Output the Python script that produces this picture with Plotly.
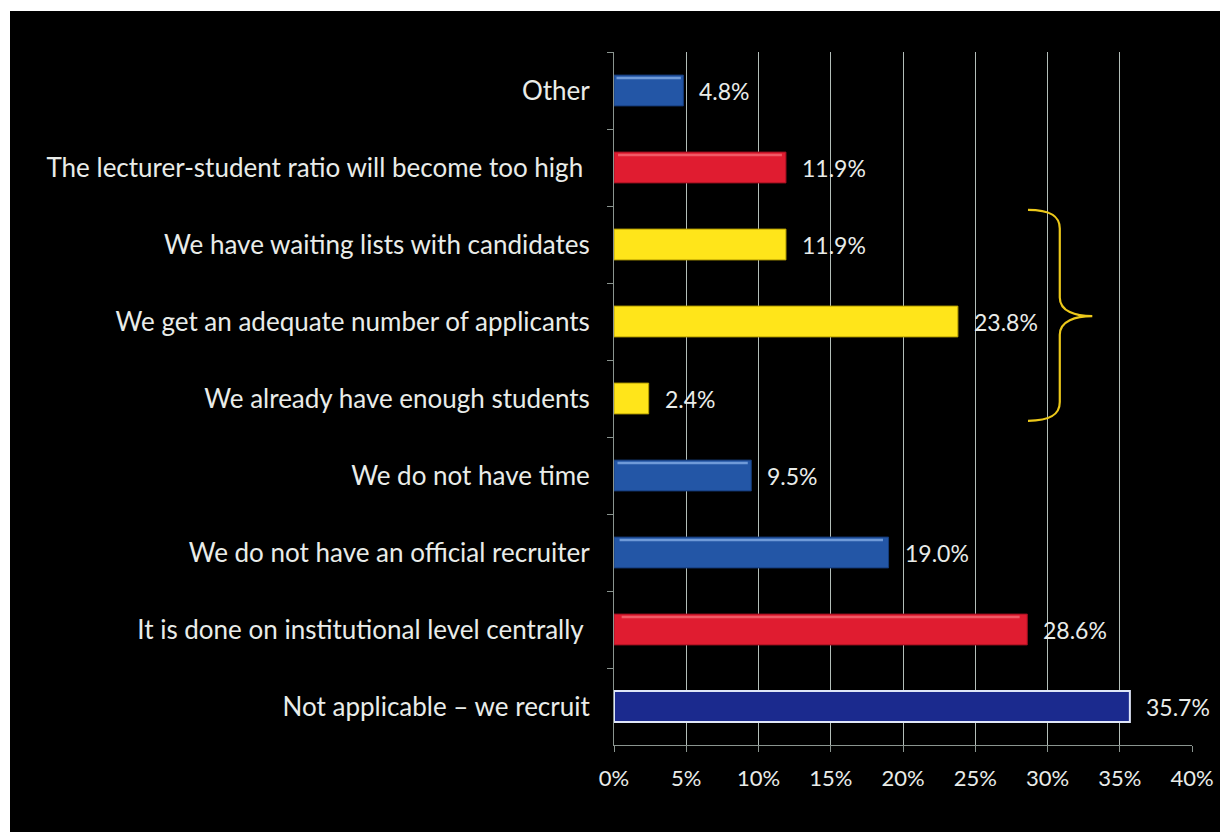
import plotly.graph_objects as go

# Reasons for not recruiting, listed top to bottom
categories = [
    "Other",
    "The lecturer-student ratio will become too high\u00a0",
    "We have waiting lists with candidates",
    "We get an adequate number of applicants",
    "We already have enough students",
    "We do not have time",
    "We do not have an official recruiter",
    "It is done on institutional level centrally\u00a0",
    "Not applicable \u2013 we recruit",
]
shares = [4.8, 11.9, 11.9, 23.8, 2.4, 9.5, 19.0, 28.6, 35.7]
groups = ["other", "capacity", "demand", "demand", "demand", "other", "other", "capacity", "recruit"]

tick_values = [0, 5, 10, 15, 20, 25, 30, 35, 40]
tick_labels = [f"{v}%" for v in tick_values]

fill = {"other": "#2356a6", "capacity": "#e01c30", "demand": "#ffe51a", "recruit": "#1b2a8e"}
edge = {"other": "#163c7a", "capacity": "#a01020", "demand": "#b8a000", "recruit": "#dfe6f8"}
shine = {"other": "#6f9ad8", "capacity": "#f05a66", "demand": None, "recruit": None}

FONT = "Lato, 'Open Sans', sans-serif"
TEXT = "#e9ece9"
BAR_W = 0.4

# page geometry (pixels)
W, H = 1220, 832
ML, MR, MT, MB = 614, 28, 52, 87
PW, PH = W - ML - MR, H - MT - MB

fig = go.Figure()
fig.add_trace(go.Bar(
    y=categories,
    x=shares,
    orientation="h",
    width=BAR_W,
    marker=dict(
        color=[fill[g] for g in groups],
        line=dict(color=[edge[g] for g in groups], width=[2 if g == "recruit" else 1 for g in groups]),
    ),
    hoverinfo="skip",
))

# thin bevel highlight along the top edge of the glossy bars
glossy = [i for i, g in enumerate(groups) if shine[g]]
fig.add_trace(go.Bar(
    y=[categories[i] for i in glossy],
    x=[shares[i] * 0.97 - 0.2 for i in glossy],
    base=[shares[i] * 0.015 + 0.1 for i in glossy],
    orientation="h",
    width=0.035,
    offset=-BAR_W / 2 + 0.02,
    marker=dict(color=[shine[groups[i]] for i in glossy], line_width=0),
    hoverinfo="skip",
))

# value labels just past the end of each bar
for cat, v in zip(categories, shares):
    fig.add_annotation(
        x=v, y=cat, xref="x", yref="y",
        text=f"{v:.1f}%", showarrow=False,
        xanchor="left", xshift=14,
        font=dict(family=FONT, size=23, color=TEXT),
    )

n = len(categories)


def row_to_paper(r):
    # y axis is reversed: row 0 sits at the top of the plot area
    return 1 - (r + 0.5) / n


# curly brace grouping the three "enough demand" rows
top, tip, bottom = 1.55, 2.93, 4.29
x_end, x_mid, x_tip = 28.65, 30.85, 33.1
yt, yk, yb = row_to_paper(top), row_to_paper(tip), row_to_paper(bottom)
dy = 0.027
path = (
    f"M {x_end},{yt} "
    f"C {x_mid - 0.6},{yt} {x_mid},{yt - dy * 0.35} {x_mid},{yt - dy} "
    f"L {x_mid},{yk + dy} "
    f"C {x_mid},{yk + dy * 0.25} {x_mid + 1.1},{yk} {x_tip},{yk} "
    f"C {x_mid + 1.1},{yk} {x_mid},{yk - dy * 0.25} {x_mid},{yk - dy} "
    f"L {x_mid},{yb + dy} "
    f"C {x_mid},{yb + dy * 0.35} {x_mid - 0.6},{yb} {x_end},{yb}"
)
fig.add_shape(type="path", path=path, xref="x", yref="paper",
              line=dict(color="#ecc81a", width=2.2))

# black slide panel on white paper, leaving a thin white frame top and left
fig.add_shape(type="rect", xref="paper", yref="paper", layer="below",
              x0=-(ML - 10) / PW, x1=1 + (MR + 40) / PW,
              y0=-(MB + 40) / PH, y1=1 + (MT - 11) / PH,
              fillcolor="#000000", line_width=0)

fig.update_layout(
    width=W, height=H,
    margin=dict(l=ML, r=MR, t=MT, b=MB, autoexpand=False),
    paper_bgcolor="#ffffff",
    plot_bgcolor="#040c0a",
    showlegend=False,
    barmode="overlay",
    font=dict(family=FONT, color=TEXT),
)
fig.update_xaxes(
    automargin=False,
    range=[0, 40],
    tickvals=tick_values, ticktext=tick_labels,
    tickfont=dict(family=FONT, size=22, color=TEXT),
    showgrid=True, gridcolor="#b3beb9", gridwidth=1,
    showline=True, linecolor="#8a948f", linewidth=1,
    ticks="outside", ticklen=6, tickcolor="#8a948f",
    ticklabelstandoff=8,
    zeroline=False,
)
fig.update_yaxes(
    automargin=False,
    autorange="reversed",
    tickfont=dict(family=FONT, size=26, color=TEXT),
    showline=True, linecolor="#8a948f", linewidth=1,
    ticks="outside", ticklen=6, tickcolor="#8a948f",
    tickson="boundaries",
    ticklabelstandoff=18,
    showgrid=False,
)

fig.write_html("out.html")
